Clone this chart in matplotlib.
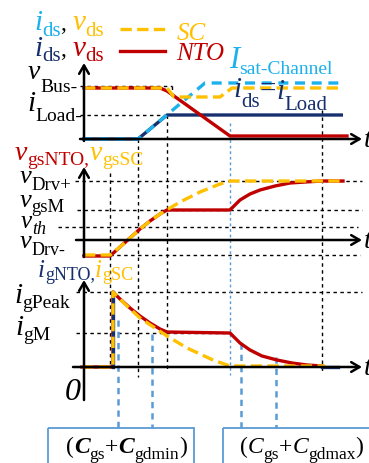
import matplotlib
matplotlib.use("Agg")
import matplotlib.pyplot as plt
from matplotlib.patches import Rectangle

plt.rcParams['font.family'] = ['Liberation Serif', 'DejaVu Serif']

# colours
LBLUE = '#1BB1EC'
YEL = '#FFC000'
RED = '#C00000'
NAVY = '#16306E'
GBLUE = '#5B9BD5'

# ---- waveforms (drawing units, time runs left -> right, level grows downward) ----
# panel 1: drain current / voltage
t_ids_nto = [82, 138, 167, 343]
ids_nto = [139, 139, 115, 115]
t_ids_sc = [82, 138, 205, 340]
ids_sc = [139, 139, 83, 83]
t_vds_nto = [84, 160, 167, 230, 347]
vds_nto = [88, 88, 91, 136, 136]
t_vds_sc = [84, 167, 174, 220, 232, 338]
vds_sc = [88, 88, 97, 97, 88, 88]

# panel 2: gate voltage
t_vgs_nto = [84, 110, 120, 130, 140, 150, 160, 167, 230, 240, 250, 260, 275, 290, 305, 322, 343]
vgs_nto = [256, 256, 247, 238, 229, 221, 214, 210, 210, 200, 194, 190, 186, 183, 182, 181, 181]
t_vgs_sc = [84, 110, 120, 130, 140, 150, 160, 170, 180, 190, 200, 210, 220, 230, 343]
vgs_sc = [255, 255, 247, 238, 229, 221, 214, 208, 202, 197, 192, 188, 184, 181, 181]

# panel 3: gate current
t_ig_nto = [82, 113, 113, 120, 130, 140, 150, 160, 167, 230, 240, 250, 262, 277, 292, 307, 322]
ig_nto = [367, 367, 292, 299, 308, 316, 323, 329, 332, 333, 343, 350, 356, 360, 363, 365, 366]
t_ig_sc = [82, 113, 113, 125, 140, 155, 167, 187, 213, 230, 325]
ig_sc = [367, 367, 292, 304, 318, 328, 336, 348, 360, 366, 366]

# guide lines
hguides = [(80, 172, 86), (80, 167, 115),
           (75, 362, 181), (77, 362, 210), (58, 358, 227), (82, 360, 255),
           (76, 362, 292), (76, 230, 333)]
vguides = [(172, 86, 97), (138, 139, 377), (167, 115, 372), (322, 110, 372), (110, 173, 367)]
blue_marks = [118, 152, 241, 276]
blue_tops = [320, 334, 343, 357]

fig = plt.figure(figsize=(3.69, 4.63), dpi=100)
ax = fig.add_axes([0, 0, 1, 1])
ax.set_xlim(0, 369)
ax.set_ylim(463, 0)
ax.axis('off')
r = fig.canvas.get_renderer()


def run(x, y, pieces):
    # pieces: (text, size, dy, color, style, weight)
    for txt, size, dy, color, style, weight in pieces:
        t = ax.text(x, y + dy, txt, fontsize=size, color=color, style=style,
                    weight=weight, va='baseline', ha='left')
        bb = t.get_window_extent(renderer=r)
        x = bb.x1


def sym(x, y, main, sub, color, drop, size=21, subsize=14, sub_style='normal'):
    run(x, y, [(main, size, 0, color, 'italic', 'normal'),
               (sub, subsize, drop, color, sub_style, 'normal')])


# guides
for x0, x1, y in hguides:
    ax.plot([x0, x1], [y, y], color='k', lw=1.0, dashes=(2.5, 2.5))
for x, y0, y1 in vguides:
    ax.plot([x, x], [y0, y1], color='k', lw=1.0, dashes=(2.5, 2.5))
ax.plot([230, 230], [123, 375], color=GBLUE, lw=1.0, dashes=(2, 2))
for x, y0 in zip(blue_marks, blue_tops):
    ax.plot([x, x], [y0, 428], color=GBLUE, lw=1.8, dashes=(2.5, 2))

# axes with arrows
arrow = dict(arrowstyle='->,head_length=0.6,head_width=0.35', lw=1.8, color='k',
             shrinkA=0, shrinkB=0)
for (x0, y0, x1, y1) in [(84, 141, 84, 63), (80, 139, 362, 139),
                         (84, 257, 84, 167), (76, 240, 362, 240),
                         (84, 400, 84, 280), (73, 367, 362, 367)]:
    ax.annotate('', xy=(x1, y1), xytext=(x0, y0), arrowprops=arrow)
for y in [139, 240, 367]:
    ax.text(364, y + 8, 't', fontsize=20, style='italic', va='baseline')

# waveforms
ax.plot(t_ids_nto, ids_nto, color=NAVY, lw=2.4, solid_capstyle='butt')
ax.plot(t_vds_nto, vds_nto, color=RED, lw=2.4)
ax.plot(t_ids_sc, ids_sc, color=LBLUE, lw=2.4, dashes=(3, 2))
ax.plot(t_vds_sc, vds_sc, color=YEL, lw=2.4, dashes=(3.4, 1.6))

ax.plot(t_vgs_nto, vgs_nto, color=RED, lw=2.4)
ax.plot(t_vgs_sc, vgs_sc, color=YEL, lw=2.4, dashes=(3.4, 1.6))

ax.plot(t_ig_nto, ig_nto, color=RED, lw=2.4)
ax.plot([113, 113], [367, 292], color=NAVY, lw=2.4)
ax.plot([322, 338], [367, 367], color=NAVY, lw=2.4)
ax.plot(t_ig_sc, ig_sc, color=YEL, lw=2.4, dashes=(3.4, 1.6))

# legend
ax.plot([120, 165], [29, 29], color=YEL, lw=2.4, dashes=(3.4, 1.6))
ax.plot([120, 165], [51, 51], color=RED, lw=2.4)
ax.text(177, 40, 'SC', fontsize=18, style='italic', color=YEL, va='baseline')
ax.text(176, 60, 'NTO', fontsize=18, style='italic', color=RED, va='baseline')
sym(229, 68, 'I', 'sat-Channel', LBLUE, 6, size=22, subsize=14)

# labels panel 1
run(34, 30, [('i', 21, 0, LBLUE, 'italic', 'normal'), ('ds', 15, 6, LBLUE, 'normal', 'normal'),
             (', ', 17, 0, 'k', 'normal', 'normal'),
             ('v', 21, 0, YEL, 'italic', 'normal'), ('ds', 15, 6, YEL, 'normal', 'normal')])
run(34, 56, [('i', 21, 0, NAVY, 'italic', 'normal'), ('ds', 15, 5, NAVY, 'normal', 'normal'),
             (', ', 17, 0, 'k', 'normal', 'normal'),
             ('v', 21, 0, RED, 'italic', 'normal'), ('ds', 15, 5, RED, 'normal', 'normal')])
sym(28, 79, 'v', 'Bus-', 'k', 13, size=20)
sym(27, 111, 'i', 'Load-', 'k', 10)
run(233, 97, [('i', 21, 0, NAVY, 'italic', 'normal'), ('ds', 15, 10, NAVY, 'normal', 'normal'),
              ('=', 21, 0, NAVY, 'normal', 'normal'),
              ('i', 21, 2, NAVY, 'italic', 'normal'), ('Load', 15, 13, NAVY, 'normal', 'normal')])

# labels panel 2
run(15, 160, [('v', 20, 0, RED, 'italic', 'normal'), ('gsNTO,', 14, 5, RED, 'normal', 'normal'),
              ('v', 20, 0, YEL, 'italic', 'normal'), ('gsSC', 14, 5, YEL, 'normal', 'normal')])
sym(20, 183, 'v', 'Drv+', 'k', 7, size=19, subsize=13.5)
sym(20, 207, 'v', 'gsM', 'k', 5, size=19, subsize=13.5)
sym(21, 228, 'v', 'th', 'k', 6, size=18, subsize=13, sub_style='italic')
sym(20, 248, 'v', 'Drv-', 'k', 7, size=19, subsize=13)

# labels panel 3
run(38, 277, [('i', 18, 0, NAVY, 'italic', 'normal'), ('gNTO,', 13, 3, NAVY, 'normal', 'normal'),
              ('i', 18, 0, YEL, 'italic', 'normal'), ('gSC', 13, 3, YEL, 'normal', 'normal')])
sym(14, 303, 'i', 'gPeak', 'k', 5)
sym(15, 335, 'i', 'gM', 'k', 5)
ax.text(65, 400, '0', fontsize=23, style='italic', va='baseline')

# capacitance boxes
ax.add_patch(Rectangle((48, 428), 146, 45, fill=False, edgecolor=GBLUE, lw=1.3))
ax.add_patch(Rectangle((223, 428), 150, 45, fill=False, edgecolor=GBLUE, lw=1.3))
run(66, 453, [('(', 17, 0, 'k', 'normal', 'normal'), ('C', 17, 0, 'k', 'italic', 'bold'),
              ('gs', 12.5, 6, 'k', 'normal', 'normal'), ('+', 17, 0, 'k', 'normal', 'normal'),
              ('C', 17, 0, 'k', 'italic', 'bold'), ('gdmin', 12.5, 6, 'k', 'normal', 'normal'),
              (')', 17, 0, 'k', 'normal', 'normal')])
run(240, 453, [('(', 17, 0, 'k', 'normal', 'normal'), ('C', 17, 0, 'k', 'italic', 'normal'),
               ('gs', 12.5, 6, 'k', 'normal', 'normal'), ('+', 17, 0, 'k', 'normal', 'normal'),
               ('C', 17, 0, 'k', 'italic', 'normal'), ('gdmax', 12.5, 6, 'k', 'normal', 'normal'),
               (')', 17, 0, 'k', 'normal', 'normal')])

fig.savefig('out.png', dpi=100)
